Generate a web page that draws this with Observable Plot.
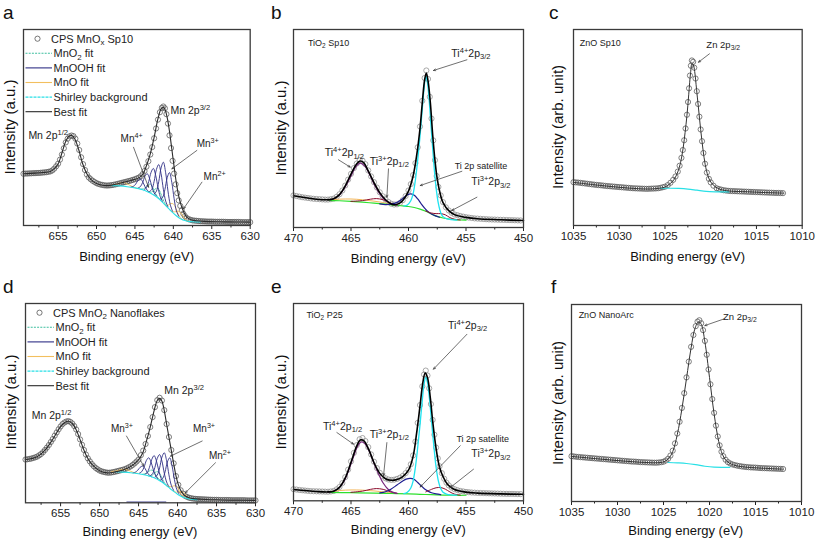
<!DOCTYPE html>
<html><head><meta charset="utf-8">
<script src="https://cdn.jsdelivr.net/npm/d3@7"></script>
<script src="https://cdn.jsdelivr.net/npm/@observablehq/plot@0.6"></script>
<style>
body{margin:0;background:#fff;}
#fig{position:relative;width:817px;height:544px;overflow:hidden;background:#fff;font-family:"Liberation Sans",Arial,Helvetica,sans-serif;color:#111;}
#fig svg{position:absolute;overflow:visible;}
.t{position:absolute;white-space:nowrap;line-height:1;}
</style></head>
<body><div id="fig"></div>
<script>
const FONT='"Liberation Sans", Arial, Helvetica, sans-serif';

// ================= Panel a : CPS MnOx Sp10 (Mn 2p) =================
const aTicks=[655,650,645,640,635,630];
const aMinor=[657.5,652.5,647.5,642.5,637.5,632.5];
const aExp=[[659.5,26.4],[659.25,26.5],[659,26.5],[658.75,26.6],[658.5,26.6],[658.25,26.7],[658,26.7],[657.75,26.8],[657.5,26.8],[657.25,26.9],[657,27.0],[656.75,27.1],[656.5,27.2],[656.25,27.4],[656,27.6],[655.75,28.1],[655.5,29.0],[655.25,30.2],[655,31.5],[654.75,33.6],[654.5,36.2],[654.25,39.4],[654,42.4],[653.75,44.3],[653.5,45.5],[653.25,45.9],[653,45.6],[652.75,44.3],[652.5,41.8],[652.25,38.5],[652,34.8],[651.75,31.3],[651.5,28.3],[651.25,26.0],[651,24.5],[650.75,23.6],[650.5,22.8],[650.25,22.2],[650,21.6],[649.75,21.2],[649.5,20.9],[649.25,20.7],[649,20.5],[648.75,20.4],[648.5,20.4],[648.25,20.5],[648,20.6],[647.75,20.8],[647.5,21.0],[647.25,21.2],[647,21.5],[646.75,21.7],[646.5,22.0],[646.25,22.2],[646,22.5],[645.75,22.7],[645.5,23.0],[645.25,23.3],[645,23.6],[644.75,24.0],[644.5,24.4],[644.25,25.1],[644,26.2],[643.75,27.8],[643.5,30.0],[643.25,32.8],[643,36.2],[642.75,40.0],[642.5,44.5],[642.25,49.5],[642,54.0],[641.75,57.8],[641.5,60.0],[641.3,60.7],[641.1,59.8],[640.9,56.8],[640.7,52.0],[640.5,46.0],[640.3,39.5],[640.1,33.0],[639.9,26.5],[639.7,21.0],[639.5,16.5],[639.3,12.8],[639.1,10.0],[638.9,7.8],[638.7,6.0],[638.5,4.8],[638.25,3.8],[638,3.2],[637.75,2.9],[637.5,2.6],[637.25,2.5],[637,2.4],[636.75,2.3],[636.5,2.2],[636.25,2.15],[636,2.1],[635.75,2.05],[635.5,2.0],[635.25,2.0],[635,2.0],[634.75,1.95],[634.5,1.9],[634.25,1.9],[634,1.9],[633.75,1.9],[633.5,1.9],[633.25,1.85],[633,1.8],[632.75,1.8],[632.5,1.8],[632.25,1.8],[632,1.8],[631.75,1.8],[631.5,1.8],[631.25,1.75],[631,1.7],[630.75,1.7],[630.5,1.7],[630.25,1.7],[630,1.7]];
const aFit=[[659.5,26.4],[658,26.7],[657,27.0],[656,27.6],[655.5,29.0],[655,31.4],[654.5,37],[654,43],[653.5,45.8],[653.2,45.9],[652.8,44],[652.3,38.5],[651.8,31.5],[651.2,26],[650.5,22.6],[650,21.4],[649,20.4],[648.3,20.4],[647.5,21.0],[646.5,22.0],[645.5,23.0],[644.5,24.3],[644,26],[643.5,30.5],[643,36.5],[642.5,45],[642,54.5],[641.6,59.5],[641.35,60.3],[641.1,59.3],[640.8,55],[640.5,48],[640.2,39],[639.9,30],[639.6,21.5],[639.3,15],[639,10.5],[638.6,6.5],[638.2,4.0],[637.6,2.8],[637,2.4],[636,2.1],[634,1.9],[632,1.8],[630,1.7]];
const aShirley=[[648.2,20.4],[647.5,20.3],[647,20.2],[646,19.8],[645,19.2],[644.5,18.8],[644,18.2],[643.5,17.5],[643,16.6],[642.5,15.4],[642,14.0],[641.5,12.2],[641,10.2],[640.5,8.2],[640,6.3],[639.5,4.6],[639,3.3],[638.5,2.5],[638,2.1],[637.5,1.9],[637,1.8],[636.5,1.8]];
const aMnOOH=[
 [[645.5,19.65],[645.2,20.0],[644.9,21.1],[644.6,23.0],[644.3,23.8],[644.0,22.4],[643.7,19.9],[643.4,18.0],[643.1,16.95]],
 [[644.6,19.1],[644.3,19.8],[644.0,21.9],[643.7,25.1],[643.4,26.4],[643.1,24.1],[642.8,19.8],[642.5,16.6],[642.2,15.0]],
 [[643.8,18.0],[643.5,19.3],[643.2,22.5],[642.9,27.1],[642.6,29.1],[642.3,25.6],[642.0,19.5],[641.7,14.7],[641.4,12.2]],
 [[643.1,17.3],[642.8,18.4],[642.5,22.5],[642.2,28.6],[641.9,31.1],[641.6,26.5],[641.3,18.5],[641.0,12.5],[640.7,9.5]],
 [[642.5,16.0],[642.2,17.5],[641.9,22.3],[641.6,29.3],[641.3,32.3],[641.0,26.9],[640.7,17.6],[640.4,10.6],[640.1,7.2]],
 [[641.7,13.5],[641.4,14.3],[641.1,18.3],[640.8,24.4],[640.5,27.0],[640.2,22.0],[639.9,13.7],[639.6,7.4],[639.3,4.7]]];
const aMnO=[
 [[641.2,10.8],[640.9,10.2],[640.6,10.5],[640.3,11.2],[640.0,11.0],[639.7,9.1],[639.4,6.2],[639.1,4.1],[638.8,3.0]],
 [[640.4,7.9],[640.1,7.05],[639.8,6.95],[639.5,7.25],[639.2,7.0],[638.9,5.75],[638.6,3.95],[638.3,2.75],[638.0,2.2]],
 [[648.2,20.4],[647.6,20.9],[647.0,21.6],[646.5,22.0],[646.0,21.2],[645.4,20.0],[644.8,19.1]]];
const aMnO2=[
 [[644.2,18.6],[643.9,18.7],[643.6,19.45],[643.3,20.7],[643.0,21.1],[642.7,19.5],[642.4,16.95],[642.1,14.9],[641.8,13.4]],
 [[643.2,17.05],[642.9,17.0],[642.6,17.65],[642.3,18.8],[642.0,19.0],[641.7,16.9],[641.4,13.85],[641.1,11.3],[640.8,9.55]]];
const aLegend=["CPS MnO_{x} Sp10","MnO_{2} fit","MnOOH fit","MnO fit","Shirley background","Best fit"];
const aLabels=[[658.8,45.9,"Mn 2p^{1/2}",10.5],[640.3,58.7,"Mn 2p^{3/2}",10.5],[646.8,44.2,"Mn^{4+}",10],[636.9,41.7,"Mn^{3+}",10],[636.0,24.6,"Mn^{2+}",10]];
const aArrows=[[645.18,39.9,643.23,19.5],[636.94,38.3,640.19,28.9],[636.28,22.1,638.68,8.5]];

// ================= Panel b : TiO2 Sp10 (Ti 2p) =================
const bTicks=[470,465,460,455,450];
const bMinor=[467.5,462.5,457.5,452.5];
const bExp=[[470,16.2],[469.75,15.9],[469.5,15.6],[469.25,15.3],[469,15.1],[468.75,14.9],[468.5,14.7],[468.25,14.5],[468,14.4],[467.75,14.3],[467.5,14.2],[467.25,14.1],[467,14.1],[466.75,14.3],[466.5,14.6],[466.25,15.5],[466,16.8],[465.75,18.7],[465.5,21.2],[465.25,24.2],[465,27.1],[464.75,30.0],[464.5,32.3],[464.25,34.0],[464,33.8],[463.75,32.0],[463.5,28.8],[463.25,25.8],[463,22.9],[462.75,20.2],[462.5,17.8],[462.25,15.8],[462,14.2],[461.75,12.9],[461.5,12.0],[461.25,11.6],[461,11.7],[460.75,12.4],[460.5,13.8],[460.25,15.9],[460,18.7],[459.8,21.9],[459.6,26.5],[459.4,32.5],[459.2,40.5],[459,51],[458.8,64],[458.6,75.5],[458.45,79.3],[458.3,75],[458.15,66],[458,55],[457.85,44],[457.7,34],[457.55,26],[457.4,20.5],[457.2,16.2],[457,12.8],[456.75,10.2],[456.5,8.6],[456.25,7.4],[456,6.6],[455.75,6.2],[455.5,5.8],[455.25,5.5],[455,5.2],[454.75,5.0],[454.5,4.8],[454.25,4.6],[454,4.5],[453.75,4.4],[453.5,4.3],[453.25,4.2],[453,4.1],[452.75,4.05],[452.5,4.0],[452.25,3.95],[452,3.9],[451.75,3.85],[451.5,3.8],[451.25,3.75],[451,3.7],[450.75,3.65],[450.5,3.6],[450.25,3.55]];
const bFit=[[470,16.0],[468,14.3],[467,14.0],[466.5,14.5],[466,16.6],[465.5,21],[465,27],[464.5,32.2],[464.2,33.6],[463.9,32.8],[463.5,28.6],[463,22.7],[462.5,17.6],[462,14.0],[461.5,11.9],[461.2,11.5],[460.8,12.2],[460.5,13.6],[460,18.4],[459.6,26],[459.3,36],[459,50],[458.8,63],[458.6,74.5],[458.45,78],[458.3,74],[458.1,63],[457.9,47],[457.7,34],[457.5,24.5],[457.2,16],[457,12.6],[456.5,8.5],[456,6.5],[455,5.1],[454,4.4],[452,3.9],[450,3.5]];
const bGreen=[[467,13.7],[466,13.5],[465,13.2],[464,12.8],[463,12.3],[462,11.8],[461,11.2],[460.5,10.9],[460,10.6],[459.5,10.1],[459,9.3],[458.5,8.2],[458,6.8],[457.5,5.6],[457,4.8],[456.5,4.3],[456,4.0],[455.5,3.8],[455,3.7]];
const bOrange=[[467,13.9],[466,14.3],[465,14.4],[464,14.0],[463,13.3],[462,12.4],[461.5,11.8],[461,11.3]];
const bTi4p32=[[460.4,10.8],[460.1,11.4],[459.8,13.5],[459.6,17],[459.4,24],[459.2,34],[459,46],[458.8,60],[458.65,70],[458.5,76.5],[458.35,73],[458.2,64],[458.05,52],[457.9,40],[457.75,29],[457.6,20],[457.4,12],[457.2,7.5],[457,5.5],[456.7,4.5],[456.3,4.0],[455.8,3.8]];
const bTi4p12=[[467,13.8],[466.5,14.5],[466,16.5],[465.5,20.5],[465,26],[464.6,30.5],[464.2,32.5],[463.8,31],[463.4,27],[463,22],[462.5,17],[462,13.6],[461.5,12],[461,11.3]];
const bTi3p12=[[465,13.2],[464,13.6],[463.3,14.3],[462.8,14.6],[462.2,14.0],[461.5,12.2],[461,11.3]];
const bSat=[[462.5,11.9],[462,11.6],[461.5,11.8],[461,12.6],[460.5,14.6],[460.2,16.2],[459.85,17.0],[459.5,16.3],[459.2,14.4],[458.9,12.0],[458.6,9.8],[458.3,8.0],[458,6.8],[457.7,6.0],[457.3,5.2]];
const bTi3p32=[[458.5,8.3],[458,7.3],[457.6,7.0],[457.2,7.0],[456.8,6.4],[456.4,5.0],[456,4.2],[455.5,3.8]];
const bLabels=[[468.7,92.8,"TiO_{2} Sp10",9],[456.23,87.7,"Ti^{4+}2p_{3/2}",10.5],[467.24,37.5,"Ti^{4+}2p_{1/2}",10.5],[463.33,33.3,"Ti^{3+}2p_{1/2}",10.5],[455.94,31.0,"Ti 2p satellite",9],[454.49,22.9,"Ti^{3+}2p_{3/2}",10.5]];
const bArrows=[[454.92,84.7,457.83,79.3],[466.09,34.2,465.07,30.5],[461.74,29.6,461.88,15.3],[455.36,28.4,458.98,21.2],[454.05,15.3,456.23,8.6]];

// ================= Panel c : ZnO Sp10 (Zn 2p) =================
const cTicks=[1035,1030,1025,1020,1015,1010];
const cMinor=[1032.5,1027.5,1022.5,1017.5,1012.5];
const cExp=[[1035,22.1],[1034.75,22.0],[1034.5,21.9],[1034.25,21.75],[1034,21.6],[1033.75,21.45],[1033.5,21.3],[1033.25,21.15],[1033,21.0],[1032.75,20.85],[1032.5,20.7],[1032.25,20.6],[1032,20.5],[1031.75,20.35],[1031.5,20.2],[1031.25,20.1],[1031,20.0],[1030.75,19.9],[1030.5,19.8],[1030.25,19.7],[1030,19.6],[1029.75,19.5],[1029.5,19.4],[1029.25,19.3],[1029,19.2],[1028.75,19.1],[1028.5,19.0],[1028.25,18.95],[1028,18.9],[1027.75,18.85],[1027.5,18.8],[1027.25,18.75],[1027,18.7],[1026.75,18.75],[1026.5,18.8],[1026.25,18.85],[1026,18.9],[1025.75,19.0],[1025.5,19.2],[1025.25,19.5],[1025,19.8],[1024.7,20.6],[1024.4,21.8],[1024.1,23.3],[1023.85,25.0],[1023.6,27.5],[1023.4,30.5],[1023.2,34.5],[1023.05,38.5],[1022.9,43.5],[1022.75,49.5],[1022.6,56.5],[1022.48,63],[1022.37,70],[1022.27,76.5],[1022.17,81.5],[1022.06,84.2],[1021.92,83.5],[1021.8,80.5],[1021.66,75],[1021.52,68.5],[1021.38,62],[1021.24,55.5],[1021.1,49],[1020.95,43],[1020.8,37],[1020.62,31.5],[1020.42,27],[1020.2,23.8],[1020,22.0],[1019.7,20.3],[1019.35,19.0],[1019.1,18.6],[1018.85,18.3],[1018.6,18.0],[1018.35,17.85],[1018.1,17.7],[1017.85,17.6],[1017.6,17.55],[1017.35,17.5],[1017.1,17.45],[1016.85,17.4],[1016.6,17.35],[1016.35,17.3],[1016.1,17.25],[1015.85,17.2],[1015.6,17.15],[1015.35,17.1],[1015.1,17.05],[1014.85,17.0],[1014.6,16.95],[1014.35,16.9],[1014.1,16.85],[1013.85,16.8],[1013.6,16.75],[1013.35,16.7],[1013.1,16.65],[1012.85,16.6],[1012.6,16.6],[1012.35,16.55],[1012.1,16.5]];
const cFit=[[1035,22.0],[1032,20.4],[1029,19.1],[1027,18.6],[1026,18.8],[1025,19.6],[1024.4,21.5],[1024,23.5],[1023.6,27.3],[1023.3,32],[1023,40],[1022.8,47.5],[1022.6,56],[1022.4,67],[1022.2,78],[1022.05,82.5],[1021.9,82],[1021.75,78.5],[1021.55,69.5],[1021.35,60.5],[1021.1,49],[1020.85,39],[1020.6,31],[1020.3,25.3],[1020,22.2],[1019.5,19.8],[1019,18.5],[1018,17.6],[1016,17.2],[1014,16.8],[1012,16.5]];
const cShirley=[[1025.5,19.0],[1024.5,19.0],[1023.5,18.9],[1022.5,18.6],[1021.5,18.0],[1020.5,17.4],[1019.5,17.2],[1018.5,17.2],[1018,17.2]];
const cLabels=[[1034.27,92.7,"ZnO Sp10",9],[1020.42,91.8,"Zn 2p_{3/2}",9.5]];
const cArrows=[[1020.14,87.6,1021.34,83.3]];

// ================= Panel d : CPS MnO2 Nanoflakes (Mn 2p) =================
const dTicks=[655,650,645,640,635,630];
const dMinor=[657.5,652.5,647.5,642.5,637.5,632.5];
const dExp=[[659.5,21.7],[659.25,21.85],[659,22.0],[658.75,22.2],[658.5,22.5],[658.25,22.8],[658,23.2],[657.75,23.8],[657.5,24.5],[657.25,25.4],[657,26.5],[656.75,27.7],[656.5,29.0],[656.25,30.5],[656,32.0],[655.75,33.7],[655.5,35.3],[655.25,36.9],[655,38.3],[654.75,39.5],[654.5,40.3],[654.25,40.8],[654,41.0],[653.75,40.6],[653.5,39.8],[653.25,38.5],[653,36.8],[652.75,34.5],[652.5,31.8],[652.25,29.1],[652,26.5],[651.75,24.2],[651.5,22.3],[651.25,20.8],[651,19.5],[650.75,18.4],[650.5,17.5],[650.25,16.8],[650,16.2],[649.75,15.8],[649.5,15.5],[649.25,15.3],[649,15.1],[648.75,15.1],[648.5,15.2],[648.25,15.4],[648,15.6],[647.75,15.85],[647.5,16.1],[647.25,16.35],[647,16.6],[646.75,16.9],[646.5,17.3],[646.25,17.8],[646,18.3],[645.75,19.0],[645.5,19.8],[645.25,20.7],[645,21.7],[644.7,23.9],[644.4,26.2],[644.1,29.5],[643.8,33.5],[643.5,38.0],[643.2,43.0],[642.9,48.0],[642.6,51.5],[642.3,52.7],[642.0,51.3],[641.7,46.5],[641.4,39.5],[641.1,33.0],[640.8,26.5],[640.5,19.8],[640.2,13.4],[639.9,9.0],[639.6,6.3],[639.3,4.6],[639,3.4],[638.75,2.9],[638.5,2.5],[638.25,2.3],[638,2.1],[637.75,2.0],[637.5,1.9],[637.25,1.85],[637,1.8],[636.75,1.75],[636.5,1.7],[636.25,1.65],[636,1.6],[635.75,1.55],[635.5,1.5],[635.25,1.5],[635,1.5],[634.75,1.45],[634.5,1.4],[634.25,1.4],[634,1.4],[633.75,1.4],[633.5,1.4],[633.25,1.35],[633,1.3],[632.75,1.3],[632.5,1.3],[632.25,1.3],[632,1.3],[631.75,1.3],[631.5,1.3],[631.25,1.25],[631,1.2],[630.75,1.2],[630.5,1.2],[630.25,1.2],[630,1.2]];
const dFit=[[659.5,21.6],[658,23.1],[657,26.4],[656,31.9],[655,38.2],[654.5,40.2],[654,40.9],[653.5,39.8],[653,36.7],[652.5,31.7],[652,26.4],[651.5,22.2],[651,19.4],[650,16.1],[649,15.0],[648,15.5],[647,16.5],[646,18.2],[645.5,19.7],[645,21.6],[644.5,24.7],[644,30.8],[643.5,38],[643,46.3],[642.6,51.3],[642.3,52.4],[642,51],[641.7,46.3],[641.4,39.4],[641.1,32.8],[640.8,26.3],[640.5,19.7],[640.2,13.5],[639.9,9.1],[639.5,5.6],[639,3.4],[638.5,2.5],[638,2.1],[637,1.8],[635,1.5],[633,1.3],[630,1.2]];
const dShirley=[[648,15.6],[647,15.4],[646,15.1],[645,14.6],[644,13.8],[643,12.6],[642.5,11.6],[642,10.4],[641.5,8.9],[641,7.3],[640.5,5.7],[640,4.3],[639.5,3.2],[639,2.4],[638.5,1.9],[638,1.7],[637.5,1.6]];
const dMnOOH=[
 [[645.7,15.0],[645.4,15.4],[645.1,16.35],[644.8,17.8],[644.5,18.4],[644.2,17.4],[643.9,15.3],[643.6,13.8],[643.3,13.0]],
 [[644.9,14.8],[644.6,15.6],[644.3,17.8],[644.0,21.2],[643.7,22.6],[643.4,20.5],[643.1,16.5],[642.8,13.5],[642.5,11.9]],
 [[644.2,14.3],[643.9,15.1],[643.6,17.8],[643.3,21.8],[643.0,23.7],[642.7,20.9],[642.4,16.0],[642.1,12.2],[641.8,10.1]],
 [[643.5,13.5],[643.2,14.6],[642.9,17.8],[642.6,22.3],[642.3,24.2],[642.0,20.9],[641.7,14.9],[641.4,10.4],[641.1,8.0]],
 [[642.9,12.9],[642.6,13.9],[642.3,17.5],[642.0,22.9],[641.7,25.1],[641.4,21.1],[641.1,14.0],[640.8,8.8],[640.5,6.2]],
 [[642.2,11.4],[641.9,12.2],[641.6,15.5],[641.3,20.5],[641.0,22.6],[640.7,18.5],[640.4,11.7],[640.1,6.7],[639.8,4.4]],
 [[646.5,0.4],[641.5,0.4]]];
const dMnO=[
 [[641.4,8.7],[641.1,8.1],[640.8,8.1],[640.5,8.5],[640.2,8.4],[639.9,6.9],[639.6,4.8],[639.3,3.4],[639.0,2.5]],
 [[640.6,6.1],[640.3,5.5],[640.0,5.3],[639.7,5.6],[639.4,5.5],[639.1,4.6],[638.8,3.2],[638.5,2.2],[638.2,1.9]],
 [[648.5,15.7],[647.9,16.0],[647.3,16.6],[646.8,16.8],[646.3,16.3],[645.7,15.3],[645.1,14.75]]];
const dMnO2=[
 [[644.5,14.3],[644.2,14.5],[643.9,15.0],[643.6,16.0],[643.3,16.4],[643.0,15.4],[642.7,13.4],[642.4,11.9],[642.1,10.8]],
 [[643.7,13.4],[643.4,13.5],[643.1,14.3],[642.8,15.4],[642.5,15.6],[642.2,14.1],[641.9,11.7],[641.6,9.7],[641.3,8.4]]];
const dLegend=["CPS MnO_{2} Nanoflakes","MnO_{2} fit","MnOOH fit","MnO fit","Shirley background","Best fit"];
const dLabels=[[658.64,43.5,"Mn 2p^{1/2}",10.5],[641.63,56.0,"Mn 2p^{3/2}",10.5],[648.47,37.1,"Mn^{3+}",10],[637.95,37.1,"Mn^{3+}",10],[635.9,23.7,"Mn^{2+}",10]];
const dArrows=[[646.55,33.5,644.33,18.4],[636.84,31.0,640.9,23.4],[635.13,20.1,639.0,5.0]];

// ================= Panel e : TiO2 P25 (Ti 2p) =================
const eTicks=[470,465,460,455,450];
const eMinor=[467.5,462.5,457.5,452.5];
const eExp=[[470,5.9],[469.75,5.7],[469.5,5.5],[469.25,5.35],[469,5.2],[468.75,5.05],[468.5,4.9],[468.25,4.85],[468,4.8],[467.75,4.75],[467.5,4.7],[467.25,4.65],[467,4.6],[466.75,4.75],[466.5,5.0],[466.25,5.8],[466,7.0],[465.75,9.0],[465.5,12.0],[465.25,15.8],[465,20],[464.75,24.3],[464.5,28.2],[464.25,31.2],[464,31.8],[463.75,30.3],[463.5,27.2],[463.25,23.5],[463,19.8],[462.75,16.6],[462.5,14.2],[462.25,12.5],[462,11.4],[461.75,10.8],[461.5,10.6],[461.25,10.7],[461,11.1],[460.75,11.7],[460.5,12.6],[460.25,14.0],[460,15.8],[459.8,18.5],[459.6,23],[459.4,30],[459.2,39.5],[459,48.5],[458.8,58],[458.65,64],[458.5,66],[458.35,63.5],[458.2,57],[458.05,49],[457.9,41],[457.75,33.5],[457.6,27],[457.45,21.5],[457.3,17.5],[457.1,14],[456.9,11.2],[456.7,9.2],[456.5,7.8],[456.25,6.7],[456,5.9],[455.75,5.4],[455.5,5.0],[455.25,4.75],[455,4.5],[454.75,4.35],[454.5,4.2],[454.25,4.1],[454,4.0],[453.75,3.95],[453.5,3.9],[453.25,3.85],[453,3.8],[452.75,3.75],[452.5,3.7],[452.25,3.65],[452,3.6],[451.75,3.55],[451.5,3.5],[451.25,3.5],[451,3.5],[450.75,3.45],[450.5,3.4],[450.25,3.4]];
const eFit=[[470,5.7],[468,4.7],[467,4.5],[466.5,4.9],[466,6.8],[465.5,11.6],[465,19.5],[464.5,27.8],[464.2,30.8],[463.9,30.5],[463.5,26.6],[463,19.3],[462.5,13.9],[462,11.2],[461.5,10.4],[461,10.8],[460.5,12.3],[460,15.5],[459.6,22.5],[459.3,34],[459,48],[458.75,60],[458.55,64.8],[458.35,62.5],[458.1,52],[457.9,40.5],[457.6,26.5],[457.3,17],[457,12.3],[456.6,8.3],[456,5.7],[455,4.4],[454,3.9],[452,3.5],[450,3.3]];
const eGreen=[[467,4.2],[465,4.1],[463,3.9],[461.5,3.7],[460,3.5],[459,3.3],[458,3.1],[457,2.9],[456,2.8],[455,2.8]];
const eOrange=[[467,4.4],[466,5.2],[465,5.5],[464,5.4],[463,5.0],[462,4.4],[461.2,3.8]];
const eTi4p32=[[460.4,3.6],[460.1,4.3],[459.8,6.5],[459.6,10],[459.4,17],[459.2,27],[459,38.5],[458.8,51],[458.65,59],[458.5,62.5],[458.35,60],[458.2,53],[458.05,44],[457.9,34],[457.75,25],[457.6,17],[457.4,10],[457.2,6.2],[457,4.3],[456.7,3.4],[456.3,3.0],[455.8,2.9]];
const eTi4p12=[[467,4.3],[466.5,5.0],[466,6.8],[465.6,10],[465.2,15.5],[464.8,22],[464.4,28],[464.1,29.8],[463.8,29],[463.4,25],[463,19],[462.6,13.5],[462.2,9],[461.8,6],[461.4,4.4],[461,3.8]];
const eTi3p12=[[465,4.3],[464,4.9],[463.3,5.8],[462.8,6.2],[462.2,5.8],[461.6,4.6],[461,3.8]];
const eSat=[[462.5,4.0],[462,4.6],[461.5,6.0],[461,8.0],[460.5,10.0],[460.2,11.0],[459.85,11.4],[459.5,10.8],[459.2,9.3],[458.9,7.6],[458.6,6.0],[458.3,4.9],[458,4.1],[457.6,3.5],[457.2,3.1]];
const eTi3p32=[[458.5,4.5],[458,5.8],[457.6,6.6],[457.2,6.7],[456.8,5.9],[456.4,4.5],[456,3.4],[455.5,2.9]];
const eLabels=[[468.83,93.8,"TiO_{2} P25",9],[456.52,88.7,"Ti^{4+}2p_{3/2}",10.5],[467.39,37.7,"Ti^{4+}2p_{1/2}",10.5],[463.33,33.5,"Ti^{3+}2p_{1/2}",10.5],[455.79,31.2,"Ti 2p satellite",9],[454.49,23.6,"Ti^{3+}2p_{3/2}",10.5]];
const eArrows=[[454.92,84.4,457.83,66.7],[466.23,34.6,464.78,28.7],[461.88,29.5,462.17,12.7],[455.5,27.9,458.98,7.0],[454.35,16.0,456.37,6.7]];

// ================= Panel f : ZnO NanoArc (Zn 2p) =================
const fTicks=[1035,1030,1025,1020,1015,1010];
const fMinor=[1032.5,1027.5,1022.5,1017.5,1012.5];
const fExp=[[1035,23.0],[1034.75,22.9],[1034.5,22.7],[1034.25,22.6],[1034,22.5],[1033.75,22.4],[1033.5,22.3],[1033.25,22.2],[1033,22.1],[1032.75,22.0],[1032.5,21.9],[1032.25,21.8],[1032,21.7],[1031.75,21.6],[1031.5,21.5],[1031.25,21.4],[1031,21.3],[1030.75,21.2],[1030.5,21.1],[1030.25,21.0],[1030,20.9],[1029.75,20.8],[1029.5,20.7],[1029.25,20.6],[1029,20.5],[1028.75,20.4],[1028.5,20.3],[1028.25,20.25],[1028,20.2],[1027.75,20.1],[1027.5,20.0],[1027.25,19.95],[1027,19.9],[1026.75,19.85],[1026.5,19.8],[1026.25,19.75],[1026,19.7],[1025.75,19.7],[1025.5,19.8],[1025.25,19.95],[1025,20.2],[1024.75,20.8],[1024.5,21.7],[1024.25,23.3],[1024,25.8],[1023.75,29.5],[1023.5,34.5],[1023.25,40.5],[1023,47.5],[1022.75,55],[1022.5,63],[1022.25,71],[1022,78.5],[1021.75,84.5],[1021.5,89],[1021.3,91.3],[1021.1,92.0],[1020.9,90.5],[1020.7,87],[1020.5,81.5],[1020.3,74.5],[1020.1,67],[1019.9,59.5],[1019.7,52],[1019.5,45],[1019.3,38.5],[1019.1,33],[1018.9,28.5],[1018.7,25.3],[1018.5,23.0],[1018.25,21.2],[1018,20.0],[1017.75,19.3],[1017.5,18.8],[1017.25,18.5],[1017,18.2],[1016.75,18.0],[1016.5,17.8],[1016.25,17.65],[1016,17.5],[1015.75,17.4],[1015.5,17.3],[1015.25,17.25],[1015,17.2],[1014.75,17.1],[1014.5,17.0],[1014.25,16.95],[1014,16.9],[1013.75,16.85],[1013.5,16.8],[1013.25,16.75],[1013,16.7],[1012.75,16.65],[1012.5,16.6],[1012.25,16.55],[1012,16.5]];
const fFit=[[1035,22.9],[1032,21.6],[1029,20.4],[1026.5,19.7],[1025.5,19.7],[1025,20.1],[1024.5,21.5],[1024,25.3],[1023.5,34],[1023,47],[1022.5,62.5],[1022,78],[1021.6,87.5],[1021.2,91.2],[1020.9,90],[1020.5,81],[1020,63],[1019.5,44.5],[1019,30.5],[1018.6,24],[1018.2,20.8],[1017.5,18.7],[1016.5,17.7],[1015,17.1],[1012,16.4]];
const fShirley=[[1024.5,19.8],[1023.5,19.6],[1022.5,19.3],[1021.5,18.7],[1020.5,17.9],[1019.5,17.4],[1018.5,17.3],[1017.8,17.3]];
const fLabels=[[1034.17,94.4,"ZnO NanoArc",9],[1018.48,93.6,"Zn 2p_{3/2}",9.5]];
const fArrows=[[1018.41,92.7,1020.51,89.3]];

// ================= layout & styles =================
const XTITLE="Binding energy (eV)";
const panels=[
 {letter:"a",frame:[23.3,29,226.7,196],domain:[659.5,630],ticks:aTicks,minor:aMinor,ylabel:"Intensity (a.u.)",kind:"mn",exp:aExp,fit:aFit,bg:aShirley,mnooh:aMnOOH,mno:aMnO,mno2:aMnO2,legend:aLegend,labels:aLabels,arrows:aArrows},
 {letter:"b",frame:[293.3,29,230,198],domain:[470,450],ticks:bTicks,minor:bMinor,ylabel:"Intensity (a.u.)",kind:"ti",exp:bExp,fit:bFit,green:bGreen,orange:bOrange,p32:bTi4p32,p12:bTi4p12,t12:bTi3p12,sat:bSat,t32:bTi3p32,labels:bLabels,arrows:bArrows},
 {letter:"c",frame:[573.3,29,228.7,196],domain:[1035,1010],ticks:cTicks,minor:cMinor,ylabel:"Intensity (arb. unit)",kind:"zn",exp:cExp,fit:cFit,bg:cShirley,labels:cLabels,arrows:cArrows},
 {letter:"d",frame:[25,302.7,230,199.3],domain:[659.5,630],ticks:dTicks,minor:dMinor,ylabel:"Intensity (a.u.)",kind:"mn",exp:dExp,fit:dFit,bg:dShirley,mnooh:dMnOOH,mno:dMnO,mno2:dMnO2,legend:dLegend,labels:dLabels,arrows:dArrows},
 {letter:"e",frame:[293.3,303,230,197.3],domain:[470,450],ticks:eTicks,minor:eMinor,ylabel:"Intensity (a.u.)",kind:"ti",exp:eExp,fit:eFit,green:eGreen,orange:eOrange,p32:eTi4p32,p12:eTi4p12,t12:eTi3p12,sat:eSat,t32:eTi3p32,labels:eLabels,arrows:eArrows},
 {letter:"f",frame:[570.7,304.3,230,197],domain:[1035,1010],ticks:fTicks,minor:fMinor,ylabel:"Intensity (arb. unit)",kind:"zn",exp:fExp,fit:fFit,bg:fShirley,labels:fLabels,arrows:fArrows}
];
const letterPos={a:[3,18],b:[271,18],c:[549,18],d:[3,292],e:[271,292],f:[551,292]};
const ylabPos={a:8.5,b:280,c:557,d:10,e:280,f:557};

const C={navy:"#2e2e85",orange:"#f2bf5e",teal:"#3fbf9f",cyan:"#29e0e6",fit:"#2a2a2a",
 tiCyan:"#1fe3f0",tiPurple:"#7a2a7e",tiMaroon:"#8b0a2a",tiNavy:"#1d1d8f",tiGreen:"#2ee02e",tiOrange:"#f3b65a"};

const X=d=>d[0],Y=d=>d[1];
const flatZ=arrs=>arrs.flatMap((a,i)=>a.map(p=>[p[0],p[1],i]));
const fig=d3.select("#fig");

function rich(sel,str,fs){
  const parts=str.split(/(\^\{[^}]*\}|_\{[^}]*\})/).filter(s=>s);
  let shift=0;
  for(const p of parts){
    let t=p,target=0,size=fs;
    if(p.startsWith("^{")){t=p.slice(2,-1);target=-0.38*fs;size=0.72*fs;}
    else if(p.startsWith("_{")){t=p.slice(2,-1);target=0.22*fs;size=0.72*fs;}
    sel.append("tspan").attr("dy",target-shift).attr("font-size",size).text(t);
    shift=target;
  }
}
function html(text,x,y,size,extra){
  return fig.append("div").attr("class","t").style("left",x+"px").style("top",y+"px")
   .style("font-size",size+"px").style("transform",extra||"translate(-50%,-50%)").text(text);
}

const line=(data,stroke,w,extra)=>Plot.line(data,Object.assign({x:X,y:Y,stroke,strokeWidth:w,curve:"catmull-rom"},extra||{}));

for(const P of panels){
  const [L,T,W,H]=P.frame;
  const mL=4,mR=4,mT=4,mB=24;
  const marks=[];
  if(P.kind==="mn"){
    marks.push(Plot.dot(P.exp,{x:X,y:Y,r:2.6,stroke:"#555",strokeWidth:0.75,fill:"none"}));
    marks.push(line(flatZ(P.mno2),C.teal,0.9,{z:d=>d[2],strokeDasharray:"2,1.2"}));
    marks.push(line(flatZ(P.mno),C.orange,0.9,{z:d=>d[2]}));
    marks.push(line(flatZ(P.mnooh),C.navy,0.9,{z:d=>d[2]}));
    marks.push(line(P.bg,C.cyan,1.1));
    marks.push(line(P.fit,C.fit,1.1));
  } else if(P.kind==="ti"){
    marks.push(Plot.dot(P.exp,{x:X,y:Y,r:2.6,stroke:"#8c8c8c",strokeWidth:0.75,fill:"none"}));
    marks.push(line(P.orange,C.tiOrange,1));
    marks.push(line(P.green,C.tiGreen,1.2));
    marks.push(line(P.t12,C.tiMaroon,1));
    marks.push(line(P.p12,C.tiPurple,1.2));
    marks.push(line(P.sat,C.tiNavy,1.2));
    marks.push(line(P.t32,C.tiMaroon,1));
    marks.push(line(P.p32,C.tiCyan,1.3));
    marks.push(line(P.fit,"#000",1.6));
  } else {
    marks.push(Plot.dot(P.exp,{x:X,y:Y,r:2.6,stroke:"#555",strokeWidth:0.75,fill:"none"}));
    marks.push(line(P.bg,C.cyan,1.2));
    marks.push(line(P.fit,"#333",1));
  }
  marks.push(Plot.arrow(P.arrows,{x1:d=>d[0],y1:d=>d[1],x2:d=>d[2],y2:d=>d[3],stroke:"#333",strokeWidth:0.7,headLength:5,headAngle:45}));
  marks.push(Plot.axisX({ticks:P.ticks,tickSize:4,tickPadding:2,tickFormat:d=>String(d),label:null,fontSize:11.5}));
  marks.push(Plot.axisX({ticks:P.minor,tickSize:2.5,tickFormat:()=>"",label:null}));
  marks.push(Plot.frame({stroke:"#3a3a3a",strokeWidth:1.3}));

  const plot=Plot.plot({
    width:W+mL+mR,height:H+mT+mB,marginLeft:mL,marginRight:mR,marginTop:mT,marginBottom:mB,
    x:{domain:P.domain,label:null},y:{domain:[0,100],axis:null},
    style:{fontFamily:FONT,fontSize:"11.5px",color:"#222",background:"transparent",overflow:"visible"},
    marks
  });
  plot.style.left=(L-mL)+"px"; plot.style.top=(T-mT)+"px";
  document.getElementById("fig").appendChild(plot);

  const svg=d3.select(plot), sx=plot.scale("x"), sy=plot.scale("y");
  const g=svg.append("g").attr("font-family",FONT).attr("fill","#222").attr("text-anchor","start");
  for(const [x,y,str,fs] of P.labels){
    const t=g.append("text").attr("x",sx.apply(x)).attr("y",sy.apply(y)+0.35*fs).attr("font-size",fs);
    rich(t,str,fs);
  }
  if(P.legend){
    const styles=[null,{c:C.teal,dash:"2,1.2"},{c:C.navy},{c:C.orange},{c:C.cyan,dash:"3,1"},{c:C.fit}];
    P.legend.forEach((lab,i)=>{
      const yy=mT+9.7+14.6*i;
      if(i===0){
        g.append("circle").attr("cx",mL+14.5).attr("cy",yy).attr("r",2.6).attr("fill","none").attr("stroke","#555").attr("stroke-width",0.8);
      } else {
        g.append("line").attr("x1",mL+2.5).attr("x2",mL+29).attr("y1",yy).attr("y2",yy)
         .attr("stroke",styles[i].c).attr("stroke-width",1.1).attr("stroke-dasharray",styles[i].dash||null);
      }
      const t=g.append("text").attr("x",mL+(i===0?28:30.5)).attr("y",yy+0.35*11).attr("font-size",11);
      rich(t,lab,11);
    });
  }
  html(XTITLE,L+W/2,T+H+(T<100?31:28.5),13);
  html(P.ylabel,ylabPos[P.letter],T+H/2,15,"translate(-50%,-50%) rotate(-90deg)");
  const [lx,ly]=letterPos[P.letter];
  html(P.letter,lx,ly-15,19,"none");
}
</script>
</body></html>
